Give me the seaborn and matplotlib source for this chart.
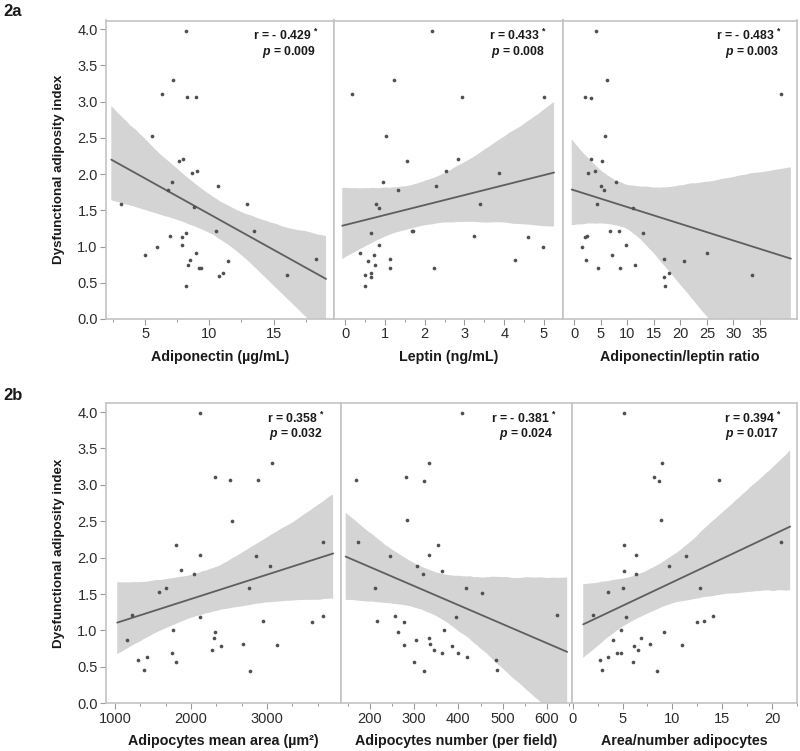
import numpy as np
import pandas as pd
import matplotlib
matplotlib.use("Agg")
import matplotlib.pyplot as plt
import seaborn as sns
from matplotlib.ticker import FormatStrFormatter, AutoMinorLocator
from matplotlib.collections import PolyCollection

sns.set_theme(style="ticks")
plt.rcParams["font.family"] = ["Liberation Sans", "DejaVu Sans"]
plt.rcParams["mathtext.fontset"] = "custom"
plt.rcParams["mathtext.it"] = "Liberation Sans:italic:bold"
plt.rcParams["mathtext.rm"] = "Liberation Sans:bold"
plt.rcParams["mathtext.bf"] = "Liberation Sans:bold"

# ---------------- data ----------------
adiponectin = [8.19, 7.21, 6.30, 8.27, 9.00, 5.55, 7.65, 7.94, 8.66, 9.03, 7.10, 6.82, 10.64, 3.13, 8.79,
               12.95, 10.48, 13.49, 8.19, 6.92, 7.86, 7.88, 5.91, 5.03, 8.95, 8.53, 11.49, 18.32, 8.32,
               9.20, 9.34, 11.05, 10.74, 16.06, 8.19]
dai_adipo = [3.98, 3.30, 3.11, 3.06, 3.06, 2.52, 2.18, 2.21, 2.02, 2.04, 1.89, 1.78, 1.83, 1.59, 1.54,
             1.59, 1.22, 1.22, 1.19, 1.14, 1.13, 1.02, 0.99, 0.89, 0.91, 0.81, 0.80, 0.83, 0.75,
             0.70, 0.70, 0.64, 0.59, 0.61, 0.46]

leptin = [2.18, 0.17, 1.24, 2.95, 5.01, 1.03, 1.56, 2.84, 2.53, 3.86, 0.96, 2.28, 1.33, 0.77, 3.38,
          0.85, 0.66, 1.67, 1.70, 3.23, 4.60, 0.86, 0.37, 4.97, 0.73, 1.14, 0.58, 4.27, 0.76, 0.66,
          0.50, 1.14, 2.23, 0.66, 0.50]
dai_leptin = [3.98, 3.11, 3.30, 3.06, 3.06, 2.52, 2.18, 2.21, 2.04, 2.02, 1.89, 1.83, 1.78, 1.59, 1.59,
              1.53, 1.19, 1.22, 1.22, 1.14, 1.13, 1.02, 0.91, 0.99, 0.88, 0.83, 0.80, 0.81, 0.74, 0.64,
              0.61, 0.70, 0.70, 0.58, 0.45]

ratio = [4.09, 6.16, 2.07, 3.14, 38.97, 5.72, 3.14, 5.28, 2.58, 3.90, 7.79, 5.09, 5.53, 4.21, 11.0,
         6.66, 8.42, 13.0, 1.95, 2.45, 24.95, 1.38, 9.74, 2.26, 7.17, 16.9, 20.6, 11.44, 4.53, 8.67,
         17.85, 16.9, 33.5, 17.16]
dai_ratio = [3.98, 3.30, 3.06, 3.05, 3.11, 2.52, 2.21, 2.18, 2.02, 2.04, 1.89, 1.83, 1.78, 1.59, 1.53,
             1.22, 1.22, 1.19, 1.13, 1.14, 0.91, 0.99, 1.02, 0.81, 0.88, 0.83, 0.80, 0.74, 0.71, 0.70,
             0.64, 0.58, 0.61, 0.45]

mean_area = [2119, 3063, 2316, 2514, 2878, 2544, 1806, 3743, 2123, 2861, 3041, 1864, 2040, 1667, 1582,
             2760, 1219, 2123, 2953, 3599, 3735, 1767, 2316, 1157, 2307, 2685, 3129, 2400, 2272, 1750,
             1298, 1416, 1806, 1381, 2782]
dai_area = [3.99, 3.30, 3.11, 3.06, 3.06, 2.51, 2.18, 2.21, 2.04, 2.02, 1.89, 1.83, 1.78, 1.59, 1.53,
            1.59, 1.21, 1.18, 1.13, 1.12, 1.20, 1.01, 0.98, 0.87, 0.90, 0.82, 0.80, 0.79, 0.73, 0.69,
            0.60, 0.63, 0.57, 0.46, 0.44]

number = [408, 334, 282, 168, 323, 284, 172, 353, 245, 333, 307, 321, 362, 212, 417, 454, 623, 395,
          217, 257, 278, 264, 368, 304, 333, 336, 386, 277, 344, 364, 398, 419, 484, 300, 488, 322]
dai_number = [3.99, 3.30, 3.11, 3.06, 3.05, 2.52, 2.21, 2.18, 2.02, 2.04, 1.89, 1.78, 1.82, 1.59, 1.59,
              1.52, 1.21, 1.18, 1.13, 1.20, 1.12, 0.98, 1.01, 0.87, 0.90, 0.82, 0.79, 0.80, 0.73, 0.69,
              0.69, 0.63, 0.60, 0.57, 0.46, 0.44]

area_number = [5.17, 8.93, 8.13, 8.70, 14.63, 8.83, 20.87, 5.13, 6.37, 11.4, 9.67, 5.17, 6.37, 3.53,
               5.03, 12.73, 2.0, 5.37, 14.07, 12.47, 13.2, 4.83, 9.13, 6.87, 4.0, 7.8, 10.97, 6.13,
               6.57, 4.47, 4.87, 3.5, 2.77, 6.03, 2.9, 8.47]
dai_an = [3.99, 3.30, 3.11, 3.05, 3.06, 2.52, 2.21, 2.18, 2.04, 2.02, 1.89, 1.82, 1.78, 1.53, 1.59,
          1.59, 1.21, 1.18, 1.20, 1.12, 1.13, 1.01, 0.98, 0.90, 0.87, 0.82, 0.80, 0.79, 0.73, 0.69,
          0.69, 0.63, 0.60, 0.57, 0.46, 0.44]

x_labels = ["Adiponectin (µg/mL)", "Leptin (ng/mL)", "Adiponectin/leptin ratio",
            "Adipocytes mean area (µm²)", "Adipocytes number (per field)", "Area/number adipocytes"]
r_texts = ["r = - 0.429", "r = 0.433", "r = - 0.483", "r = 0.358", "r = - 0.381", "r = 0.394"]
p_texts = ["0.009", "0.008", "0.003", "0.032", "0.024", "0.017"]
row_labels = ["2a", "2b"]
y_label = "Dysfunctional adiposity index"
y_ticks = [0.0, 0.5, 1.0, 1.5, 2.0, 2.5, 3.0, 3.5, 4.0]
x_ticks = [[5, 10, 15], [0, 1, 2, 3, 4, 5], [0, 5, 10, 15, 20, 25, 30, 35],
           [1000, 2000, 3000], [200, 300, 400, 500, 600], [0, 5, 10, 15, 20]]

xs = [adiponectin, leptin, ratio, mean_area, number, area_number]
ys = [dai_adipo, dai_leptin, dai_ratio, dai_area, dai_number, dai_an]

# ---------------- layout ----------------
W, H = 800, 751
fig = plt.figure(figsize=(W / 100, H / 100), dpi=100)

row_px = [(20.5, 319.0), (403.3, 703.3)]
col_px = [[106, 334, 562.7, 797], [106, 340.7, 571.7, 797]]
xlims = [(1.96, 19.7), (-0.28, 5.47), (-2.2, 42.0), (880, 3972), (134, 656), (-0.1, 22.5)]
xminor_n = [2, 2, 1, 3, 2, 2]
ylim = (0, 4.12)

grey_spine = "#c4c4c4"
txt_col = "#2b2b2b"
lab_col = "#1a1a1a"

for i in range(6):
    r, c = divmod(i, 3)
    top, bot = row_px[r]
    x0, x1 = col_px[r][c], col_px[r][c + 1]
    ax = fig.add_axes([x0 / W, 1 - bot / H, (x1 - x0) / W, (bot - top) / H])
    df = pd.DataFrame({"x": xs[i], "y": ys[i]})
    sns.regplot(data=df, x="x", y="y", ax=ax, ci=95, seed=3, n_boot=2000, truncate=False,
                scatter_kws=dict(s=7, color="#505050", linewidths=0, zorder=3, alpha=1),
                line_kws=dict(color="#5e5e5e", lw=1.3, zorder=2))
    for coll in ax.collections:
        if isinstance(coll, PolyCollection):
            coll.set_facecolor("#d4d4d4")
            coll.set_edgecolor("none")
            coll.set_alpha(1)
            coll.set_zorder(1)
    ax.set_xlim(*xlims[i])
    ax.set_ylim(*ylim)
    ax.set_xlabel(x_labels[i], fontsize=10.3, fontweight="bold", color=lab_col, labelpad=6)
    ax.set_ylabel("")
    ax.set_xticks(x_ticks[i])
    ax.set_xticklabels([f"{t:g}" for t in x_ticks[i]])
    if xminor_n[i] > 1:
        ax.xaxis.set_minor_locator(AutoMinorLocator(xminor_n[i]))
    ax.set_yticks(y_ticks)
    ax.yaxis.set_major_formatter(FormatStrFormatter("%.1f"))
    ax.tick_params(axis="both", which="major", direction="out", length=4, width=0.8,
                   color="#9a9a9a", labelsize=10.5, labelcolor=txt_col, pad=2)
    ax.tick_params(axis="x", which="minor", direction="out", length=2.5, width=0.7, color="#9a9a9a")
    if c == 0:
        ax.set_ylabel(y_label, fontsize=9.6, fontweight="bold", color=lab_col, labelpad=9)
    else:
        ax.tick_params(axis="y", which="both", left=False, labelleft=False)
    for s in ax.spines.values():
        s.set_visible(True)
        s.set_color(grey_spine)
        s.set_linewidth(1.2)
    ax.annotate(r_texts[i] + r" $^{*}$", xy=(1, 1), xycoords="axes fraction",
                xytext=(-15, -15), textcoords="offset pixels", ha="right", va="center",
                fontsize=8.8, fontweight="bold", color=lab_col)
    ax.annotate(r"$p$ = " + p_texts[i], xy=(1, 1), xycoords="axes fraction",
                xytext=(-18, -31), textcoords="offset pixels", ha="right", va="center",
                fontsize=8.8, fontweight="bold", color=lab_col)

fig.text(3 / W, 1 - 12 / H, row_labels[0], fontsize=12, fontweight="bold", ha="left", va="center", color=lab_col)
fig.text(3 / W, 1 - 395 / H, row_labels[1], fontsize=12, fontweight="bold", ha="left", va="center", color=lab_col)

fig.savefig("out.png", dpi=100)
